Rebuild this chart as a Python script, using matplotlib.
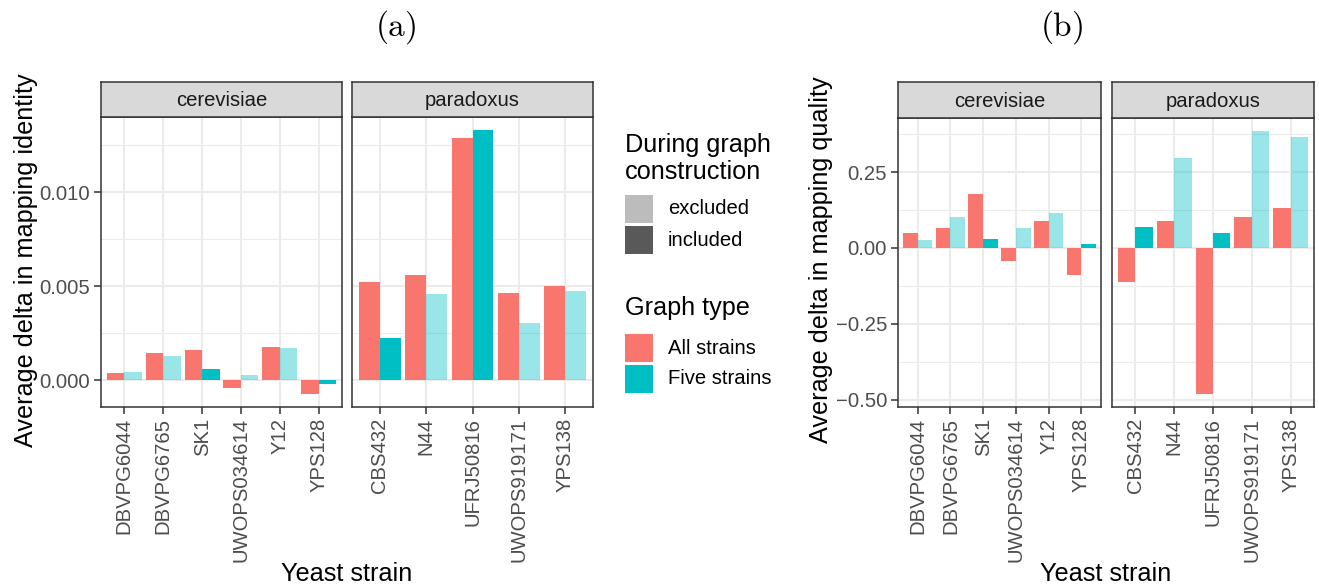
import numpy as np
import matplotlib
matplotlib.use("Agg")
import matplotlib.pyplot as plt
from matplotlib.colors import to_rgba
from matplotlib.patches import Rectangle

plt.rcParams['font.family'] = ['Liberation Sans', 'DejaVu Sans']
plt.rcParams['mathtext.fontset'] = 'cm'

# ---------------- data ----------------
strains_cer = ['DBVPG6044', 'DBVPG6765', 'SK1', 'UWOPS034614', 'Y12', 'YPS128']
strains_par = ['CBS432', 'N44', 'UFRJ50816', 'UWOPS919171', 'YPS138']
species = ['cerevisiae', 'paradoxus']
graph_types = ['All strains', 'Five strains']
construction_levels = ['excluded', 'included']
five_included = ['SK1', 'YPS128', 'CBS432', 'UFRJ50816']

identity_all_cer = [0.00039, 0.00142, 0.00161, -0.00042, 0.00175, -0.00073]
identity_five_cer = [0.00044, 0.00127, 0.00058, 0.00025, 0.00170, -0.00023]
identity_all_par = [0.00520, 0.00561, 0.01285, 0.00464, 0.00501]
identity_five_par = [0.00225, 0.00458, 0.01329, 0.00303, 0.00473]

quality_all_cer = [0.048, 0.067, 0.177, -0.043, 0.090, -0.090]
quality_five_cer = [0.026, 0.102, 0.031, 0.067, 0.114, 0.014]
quality_all_par = [-0.111, 0.090, -0.481, 0.103, 0.130]
quality_five_par = [0.069, 0.297, 0.050, 0.385, 0.366]

identity_ticks = [0.0, 0.005, 0.010]
identity_ticklabels = ['0.000', '0.005', '0.010']
quality_ticks = [-0.50, -0.25, 0.0, 0.25]
quality_ticklabels = ['\u22120.50', '\u22120.25', '0.00', '0.25']

# ---------------- style ----------------
RED = '#F8766D'
CYAN = '#00BFC4'
ALPHA_EXCL = 0.4
W, H = 1319, 587
TICK_FS = 14.6
TITLE_FS = 18.2

fig = plt.figure(figsize=(W / 100, H / 100), dpi=100)


def rect(x0, y0, x1, y1):
    return [x0 / W, 1 - y1 / H, (x1 - x0) / W, (y1 - y0) / H]


def ylims(vals):
    lo = min(vals)
    hi = max(vals)
    r = hi - lo
    return lo - 0.05 * r, hi + 0.05 * r


def draw_panel(box, strip_box, strains, all_vals, five_vals, ylim, yticks,
               yticklabels, show_y, label):
    ax = fig.add_axes(rect(*box))
    n = len(strains)
    x = np.arange(1, n + 1)
    five_cols = [to_rgba(CYAN, 1.0 if s in five_included else ALPHA_EXCL) for s in strains]
    ax.bar(x - 0.225, all_vals, width=0.45, color=RED, zorder=3, linewidth=0)
    ax.bar(x + 0.225, five_vals, width=0.45, color=five_cols, zorder=3, linewidth=0)
    ax.set_xlim(0.4, n + 0.6)
    ax.set_ylim(*ylim)
    ax.set_xticks(x)
    ax.set_xticklabels(strains, rotation=90, fontsize=TICK_FS, color='#4D4D4D')
    ax.set_yticks(yticks)
    minor = [(a + b) / 2 for a, b in zip(yticks[:-1], yticks[1:])]
    step = yticks[1] - yticks[0]
    minor = [yticks[0] - step / 2] + minor + [yticks[-1] + step / 2]
    ax.set_yticks([m for m in minor if ylim[0] <= m <= ylim[1]], minor=True)
    if show_y:
        ax.set_yticklabels(yticklabels, fontsize=TICK_FS, color='#4D4D4D')
        ax.tick_params(axis='y', which='major', length=5, width=1.1, color='#333333', pad=3)
    else:
        ax.tick_params(axis='y', which='major', length=0, labelleft=False)
    ax.tick_params(axis='x', which='major', length=5, width=1.1, color='#333333', pad=3)
    ax.tick_params(which='minor', length=0)
    ax.grid(which='major', color='#EBEBEB', linewidth=1.5, zorder=0)
    ax.grid(which='minor', axis='y', color='#EBEBEB', linewidth=0.8, zorder=0)
    ax.set_axisbelow(True)
    for sp in ax.spines.values():
        sp.set_color('#333333')
        sp.set_linewidth(1.1)
        sp.set_zorder(5)
    sax = fig.add_axes(rect(*strip_box))
    sax.set_facecolor('#D9D9D9')
    sax.set_xticks([])
    sax.set_yticks([])
    for sp in sax.spines.values():
        sp.set_color('#333333')
        sp.set_linewidth(1.1)
    sax.text(0.5, 0.47, label, transform=sax.transAxes, ha='center', va='center',
             fontsize=TICK_FS, color='#1A1A1A')
    return ax


# ---- (a) identity ----
ylim_id = ylims(identity_all_cer + identity_five_cer + identity_all_par + identity_five_par)
draw_panel((101, 117, 342, 407), (101, 82, 342, 117), strains_cer, identity_all_cer,
           identity_five_cer, ylim_id, identity_ticks, identity_ticklabels, True, species[0])
draw_panel((352, 117, 593, 407), (352, 82, 593, 117), strains_par, identity_all_par,
           identity_five_par, ylim_id, identity_ticks, identity_ticklabels, False, species[1])

# ---- (b) quality ----
ylim_q = ylims(quality_all_cer + quality_five_cer + quality_all_par + quality_five_par)
draw_panel((898, 118, 1101, 407), (898, 82, 1101, 118), strains_cer, quality_all_cer,
           quality_five_cer, ylim_q, quality_ticks, quality_ticklabels, True, species[0])
draw_panel((1112, 118, 1314, 407), (1112, 82, 1314, 118), strains_par, quality_all_par,
           quality_five_par, ylim_q, quality_ticks, quality_ticklabels, False, species[1])

# ---- overlay for titles / legend ----
ov = fig.add_axes([0, 0, 1, 1])
ov.set_xlim(0, W)
ov.set_ylim(H, 0)
ov.axis('off')
ov.patch.set_alpha(0)

ov.text(396, 27, r'$(\mathrm{a})$', fontsize=24, ha='center', va='center')
ov.text(1062, 27, r'$(\mathrm{b})$', fontsize=24, ha='center', va='center')

ov.text(26, 260, 'Average delta in mapping identity', rotation=90, ha='center',
        va='center', fontsize=TITLE_FS)
ov.text(821, 260, 'Average delta in mapping quality', rotation=90, ha='center',
        va='center', fontsize=TITLE_FS)
ov.text(347, 574, 'Yeast strain', ha='center', va='center', fontsize=TITLE_FS)
ov.text(1106, 574, 'Yeast strain', ha='center', va='center', fontsize=TITLE_FS)

# legend 1: during graph construction
ov.text(625, 152, 'During graph', ha='left', va='baseline', fontsize=TITLE_FS)
ov.text(625, 179, 'construction', ha='left', va='baseline', fontsize=TITLE_FS)
key_alpha = {'excluded': ALPHA_EXCL, 'included': 1.0}
for i, lev in enumerate(construction_levels):
    y0 = 195 + i * 31
    ov.add_patch(Rectangle((625, y0), 28, 28, facecolor=to_rgba('#595959', key_alpha[lev]),
                           edgecolor='none'))
    ov.text(668, y0 + 14, lev, ha='left', va='center', fontsize=TICK_FS)

# legend 2: graph type
ov.text(625, 315, 'Graph type', ha='left', va='baseline', fontsize=TITLE_FS)
for i, (gt, col) in enumerate(zip(graph_types, [RED, CYAN])):
    y0 = 334 + i * 31
    ov.add_patch(Rectangle((625, y0), 28, 28, facecolor=col, edgecolor='none'))
    ov.text(668, y0 + 14, gt, ha='left', va='center', fontsize=TICK_FS)

fig.savefig('out.png', dpi=100)
